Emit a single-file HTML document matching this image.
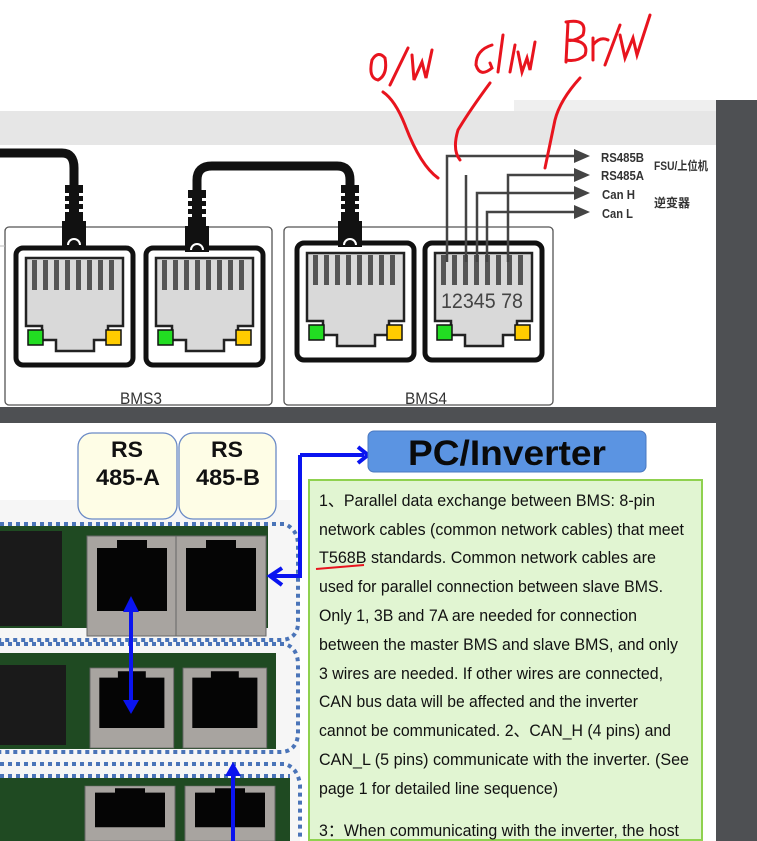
<!DOCTYPE html>
<html><head><meta charset="utf-8"><style>
html,body{margin:0;padding:0;width:757px;height:841px;overflow:hidden;background:#fff}
svg{display:block}
.t{font-family:"Liberation Sans",sans-serif;font-size:16.5px;fill:#111}
</style></head><body>
<svg width="757" height="841" viewBox="0 0 757 841" xmlns="http://www.w3.org/2000/svg">
<defs>
<g id="jk">
<rect x="0" y="0" width="117" height="117" rx="7" fill="#fff" stroke="#111" stroke-width="5"/>
<polygon points="10,10 107,10 107,78 92,78 92,92 78,92 78,103 40,103 40,92 26,92 26,78 10,78" fill="#d9d9d9" stroke="#222" stroke-width="2.5"/>
<g fill="#555"><rect x="16" y="12" width="5" height="30"/><rect x="27" y="12" width="5" height="30"/><rect x="38" y="12" width="5" height="30"/><rect x="49" y="12" width="5" height="30"/><rect x="60" y="12" width="5" height="30"/><rect x="71" y="12" width="5" height="30"/><rect x="82" y="12" width="5" height="30"/><rect x="93" y="12" width="5" height="30"/></g>
<rect x="12" y="82" width="15" height="15" fill="#22dd22" stroke="#111" stroke-width="1.5"/>
<rect x="90" y="82" width="15" height="15" fill="#ffcc00" stroke="#111" stroke-width="1.5"/>
</g>
<g id="plug">
<rect x="-9" y="0" width="18" height="62" fill="#111"/>
<g fill="#fff"><rect x="-12" y="8" width="7" height="3"/><rect x="5" y="8" width="7" height="3"/><rect x="-12" y="16" width="7" height="3"/><rect x="5" y="16" width="7" height="3"/><rect x="-12" y="24" width="7" height="3"/><rect x="5" y="24" width="7" height="3"/></g>
<rect x="-12" y="36" width="24" height="26" fill="#111"/>
<path d="M-6,60 a6,6 0 0 1 12,0" fill="none" stroke="#fff" stroke-width="2"/>
</g>
<g id="pj">
<rect x="0" y="0" width="90" height="100" fill="#a8a4a0" stroke="#666"/>
<polygon points="10,12 30,12 30,4 60,4 60,12 80,12 80,75 10,75" fill="#050505"/>
</g>
</defs>
<rect x="0" y="111" width="716" height="34" fill="#e6e6e6"/>
<rect x="514" y="100" width="202" height="11" fill="#efefef"/>
<rect x="716" y="100" width="41" height="741" fill="#4e5053"/>
<rect x="0" y="407" width="716" height="16" fill="#4e5053"/>
<rect x="5" y="227" width="267" height="178" rx="4" fill="#fff" stroke="#555" stroke-width="1.3"/>
<rect x="284" y="227" width="269" height="178" rx="4" fill="#fff" stroke="#555" stroke-width="1.3"/>
<line x1="0" y1="246" x2="5" y2="246" stroke="#bbb"/>
<use href="#jk" transform="translate(16,248)"/>
<use href="#jk" transform="translate(146,248)"/>
<use href="#jk" transform="translate(297,243)"/>
<use href="#jk" transform="translate(425,243)"/>
<text x="120" y="404" font-family="Liberation Sans,sans-serif" font-size="17" textLength="42" lengthAdjust="spacingAndGlyphs" fill="#333">BMS3</text>
<text x="405" y="404" font-family="Liberation Sans,sans-serif" font-size="17" textLength="42" lengthAdjust="spacingAndGlyphs" fill="#333">BMS4</text>
<text x="441" y="308" font-family="Liberation Sans,sans-serif" font-size="21" textLength="82" lengthAdjust="spacingAndGlyphs" fill="#444">12345 78</text>
<path d="M0,153 H62 Q74,153 74,168 V190" fill="none" stroke="#111" stroke-width="9"/>
<use href="#plug" transform="translate(74,185)"/>
<path d="M197,195 V180 Q197,166 212,166 H337 Q350,166 350,180 V200" fill="none" stroke="#111" stroke-width="9"/>
<use href="#plug" transform="translate(197,190)"/>
<use href="#plug" transform="translate(350,185)"/>
<g fill="none" stroke="#444" stroke-width="2.5">
<path d="M447,262 V156 H578"/>
<path d="M466,262 V175"/>
<path d="M508,262 V175 H578"/>
<path d="M477,262 V193 H578"/>
<path d="M487,262 V212 H578"/>
</g>
<g fill="#444">
<polygon points="574,149 590,156 574,163"/><polygon points="574,168 590,175 574,182"/><polygon points="574,186 590,193 574,200"/><polygon points="574,205 590,212 574,219"/>
</g>
<g font-family="Liberation Sans,sans-serif" font-size="13" font-weight="bold" fill="#333">
<text x="601" y="162" textLength="43" lengthAdjust="spacingAndGlyphs">RS485B</text>
<text x="601" y="180" textLength="43" lengthAdjust="spacingAndGlyphs">RS485A</text>
<text x="602" y="199" textLength="33" lengthAdjust="spacingAndGlyphs">Can H</text>
<text x="602" y="218" textLength="31" lengthAdjust="spacingAndGlyphs">Can L</text>
<text x="654" y="170" font-family="Liberation Sans,Noto Sans CJK SC,sans-serif" font-size="12" textLength="54" lengthAdjust="spacingAndGlyphs">FSU/上位机</text>
<text x="654" y="207" font-family="Liberation Sans,Noto Sans CJK SC,sans-serif" font-size="12">逆变器</text>
</g>
<g fill="none" stroke="#e8141e" stroke-width="3" stroke-linecap="round">
<path d="M383,92 Q395,100 405,125 Q420,165 438,178"/>
<path d="M490,83 Q470,110 458,130 Q452,150 460,160"/>
<path d="M580,78 Q560,100 555,120 L545,168"/>
<path d="M372,60 Q368,78 378,80 Q388,75 385,58 Q378,50 372,60 Z"/>
<path d="M408,48 L390,85"/>
<path d="M412,55 L414,80 L422,62 L426,78 L432,50"/>
<path d="M492,45 Q476,50 476,65 Q480,78 492,68 L490,63"/>
<path d="M503,35 L498,72"/>
<path d="M515,45 L510,72"/>
<path d="M518,52 L522,72 L527,58 L530,70 L535,42"/>
<path d="M568,22 L566,62 M566,22 Q588,18 583,35 Q575,42 567,40 Q590,40 585,55 Q578,62 566,60"/>
<path d="M593,38 L593,60 M593,45 Q600,36 608,40"/>
<path d="M620,25 L605,65"/>
<path d="M620,35 L625,58 L633,38 L637,55 L650,15"/>
</g>
<rect x="0" y="423" width="716" height="418" fill="#fff"/>
<rect x="0" y="500" width="300" height="341" fill="#f6f6f6"/>
<rect x="78" y="433" width="99" height="86" rx="14" fill="#fefde6" stroke="#6a8ac6" stroke-width="1.3"/>
<rect x="179" y="433" width="97" height="86" rx="14" fill="#fefde6" stroke="#6a8ac6" stroke-width="1.3"/>
<g font-family="Liberation Sans,sans-serif" font-size="22" font-weight="bold" fill="#111">
<text x="111" y="457" textLength="32" lengthAdjust="spacingAndGlyphs">RS</text><text x="96" y="485" textLength="64" lengthAdjust="spacingAndGlyphs">485-A</text>
<text x="211" y="457" textLength="32" lengthAdjust="spacingAndGlyphs">RS</text><text x="196" y="485" textLength="64" lengthAdjust="spacingAndGlyphs">485-B</text>
</g>
<rect x="0" y="526" width="268" height="102" fill="#1f4a22"/>
<rect x="0" y="531" width="62" height="95" fill="#1a1a1a"/>
<use href="#pj" transform="translate(87,536)"/>
<use href="#pj" transform="translate(176,536)"/>
<rect x="0" y="653" width="276" height="96" fill="#1f4a22"/>
<rect x="0" y="665" width="66" height="80" fill="#1a1a1a"/>
<use href="#pj" transform="translate(90,668) scale(0.93,0.8)"/>
<use href="#pj" transform="translate(183,668) scale(0.93,0.8)"/>
<rect x="0" y="778" width="290" height="63" fill="#1f4a22"/>
<use href="#pj" transform="translate(85,786) scale(1,0.55)"/>
<use href="#pj" transform="translate(185,786) scale(1,0.55)"/>
<g fill="none" stroke="#4a74b8" stroke-width="4" stroke-dasharray="4,4">
<path d="M0,524 H285 Q298,530 298,545 V625 Q296,640 280,640 H0"/>
<path d="M0,644 H285 Q298,648 298,665 V735 Q296,752 280,752 H0"/>
<path d="M0,764 H285 Q298,768 300,785 V839"/>
<path d="M0,776 H290"/>
</g>
<g fill="none" stroke="#0a14f0" stroke-width="4">
<path d="M300,455 V576 H272"/>
<path d="M300,455 H364"/>
<path d="M282,568 L270,576 L282,585"/>
<path d="M358,447 L368,455 L358,463"/>
<line x1="131" y1="606" x2="131" y2="706"/>
<line x1="233" y1="772" x2="233" y2="841"/>
</g>
<g fill="#0a14f0">
<polygon points="123,612 131,596 139,612"/><polygon points="123,700 131,714 139,700"/>
<polygon points="225,776 233,762 241,776"/>
</g>
<rect x="368" y="431" width="278" height="41" rx="6" fill="#5b94e2" stroke="#4a78c0"/>
<text x="408" y="465" textLength="198" lengthAdjust="spacingAndGlyphs" font-family="Liberation Sans,sans-serif" font-size="35" font-weight="bold" fill="#0a0a0a">PC/Inverter</text>
<rect x="309" y="480" width="393" height="360" fill="#e1f5d2" stroke="#8fd14f" stroke-width="2"/>
<g class="t">
<text x="319" y="506" textLength="336" lengthAdjust="spacingAndGlyphs">1、Parallel data exchange between BMS: 8-pin</text>
<text x="319" y="535" textLength="365" lengthAdjust="spacingAndGlyphs">network cables (common network cables) that meet</text>
<text x="319" y="563" textLength="337" lengthAdjust="spacingAndGlyphs">T568B standards.  Common network cables are</text>
<text x="319" y="592" textLength="344" lengthAdjust="spacingAndGlyphs">used for parallel connection between slave BMS.</text>
<text x="319" y="621" textLength="318" lengthAdjust="spacingAndGlyphs">Only 1, 3B and 7A are needed for connection</text>
<text x="319" y="650" textLength="359" lengthAdjust="spacingAndGlyphs">between the master BMS and slave BMS, and only</text>
<text x="319" y="679" textLength="344" lengthAdjust="spacingAndGlyphs">3 wires are needed. If other wires are connected,</text>
<text x="319" y="707" textLength="319" lengthAdjust="spacingAndGlyphs">CAN bus data will be affected and the inverter</text>
<text x="319" y="736" textLength="352" lengthAdjust="spacingAndGlyphs">cannot be communicated.  2、CAN_H (4 pins) and</text>
<text x="319" y="765" textLength="370" lengthAdjust="spacingAndGlyphs">CAN_L (5 pins) communicate with the inverter.  (See</text>
<text x="319" y="794" textLength="239" lengthAdjust="spacingAndGlyphs">page 1 for detailed line sequence)</text>
<text x="319" y="836" textLength="360" lengthAdjust="spacingAndGlyphs">3：When communicating with the inverter, the host</text>
</g>
<path d="M316,569 Q340,567 364,565" fill="none" stroke="#e8141e" stroke-width="2"/>
</svg>
</body></html>
